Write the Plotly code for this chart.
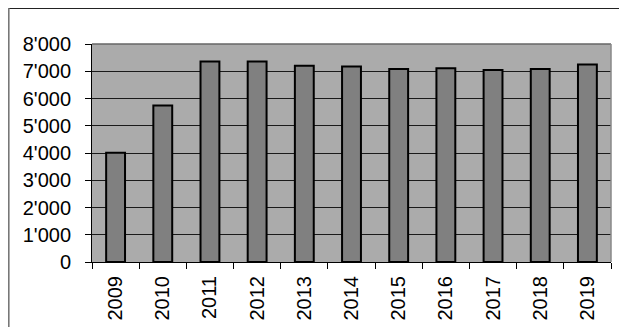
import plotly.graph_objects as go

years = ['2009', '2010', '2011', '2012', '2013', '2014', '2015', '2016', '2017', '2018', '2019']
values = [4010, 5740, 7360, 7360, 7200, 7170, 7080, 7110, 7050, 7080, 7250]
y_ticks = [0, 1000, 2000, 3000, 4000, 5000, 6000, 7000, 8000]
y_labels = ["0", "1'000", "2'000", "3'000", "4'000", "5'000", "6'000", "7'000", "8'000"]

font = dict(family="Arial, Liberation Sans, sans-serif", size=20, color="black")

fig = go.Figure()
fig.add_trace(go.Bar(
    x=years, y=values,
    marker=dict(color="#808080", line=dict(color="black", width=2)),
))

# page body has an 8px margin, so figure coords = page coords - 8
OFF = 8
W, H = 627 - OFF, 327 - OFF
L, R, T, B = 92 - OFF, 611 - OFF, 44 - OFF, 262 - OFF
pw, ph = R - L, B - T

def px_x(x):
    return (x - L) / pw

def px_y(y):
    return (B - y) / ph

fig.update_layout(
    width=W, height=H,
    margin=dict(l=L, r=W - R, t=T, b=H - B),
    paper_bgcolor="white",
    plot_bgcolor="#ABABAB",
    showlegend=False,
    bargap=0.6,
    font=font,
    shapes=[
        # outer chart border (top + left)
        dict(type="line", xref="paper", yref="paper",
             x0=px_x(0), x1=px_x(640), y0=px_y(0.5), y1=px_y(0.5),
             line=dict(color="#222222", width=1.2)),
        dict(type="line", xref="paper", yref="paper",
             x0=px_x(0.8), x1=px_x(0.8), y0=px_y(0), y1=px_y(340),
             line=dict(color="#777777", width=1.6)),
        # plot area border top/right
        dict(type="line", xref="paper", yref="paper",
             x0=0, x1=1, y0=1, y1=1, line=dict(color="#666666", width=1.5)),
        dict(type="line", xref="paper", yref="paper",
             x0=1, x1=1, y0=0, y1=1, line=dict(color="#888888", width=1.5)),
    ],
)

fig.update_xaxes(
    type="category",
    tickangle=-90,
    tickson="boundaries",
    ticks="outside", ticklen=6, tickcolor="black", tickwidth=1,
    ticklabelstandoff=5,
    showline=True, linecolor="black", linewidth=1,
    showgrid=False,
    automargin=False,
    tickfont=font,
)
fig.update_yaxes(
    range=[0, 8000],
    tickvals=y_ticks, ticktext=y_labels,
    ticks="outside", ticklen=6, tickcolor="black", tickwidth=1,
    ticklabelstandoff=10,
    showline=True, linecolor="black", linewidth=1,
    showgrid=True, gridcolor="#1a1a1a", gridwidth=1,
    zeroline=False,
    automargin=False,
    tickfont=font,
)

fig.write_html("out.html")
